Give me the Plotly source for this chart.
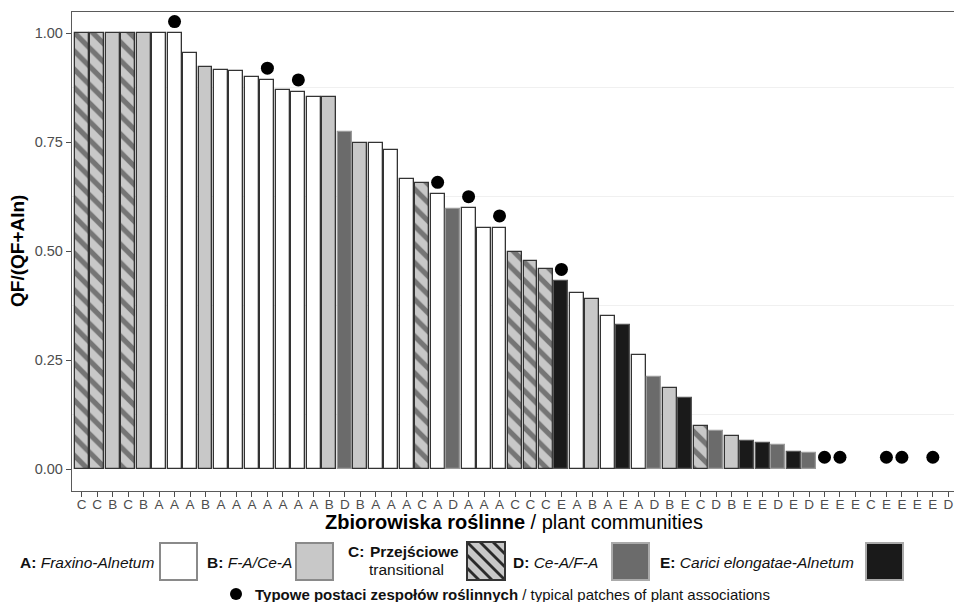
import plotly.graph_objects as go

# ---------------- data ----------------
communities = ["C", "C", "B", "C", "B", "A", "A", "A", "B", "A",
               "A", "A", "A", "A", "A", "A", "B", "D", "B", "A",
               "A", "A", "C", "A", "D", "A", "A", "A", "C", "C",
               "C", "E", "A", "B", "A", "E", "A", "D", "B", "E",
               "C", "D", "B", "E", "E", "D", "E", "D", "E", "E",
               "E", "C", "E", "E", "E", "E", "D"]

qf_ratio = [1.000, 1.000, 1.000, 1.000, 1.000, 1.000, 1.000, 0.956, 0.922, 0.916,
            0.914, 0.899, 0.893, 0.869, 0.866, 0.855, 0.855, 0.774, 0.749, 0.749,
            0.733, 0.665, 0.656, 0.631, 0.597, 0.598, 0.554, 0.554, 0.498, 0.477,
            0.458, 0.431, 0.403, 0.391, 0.351, 0.331, 0.262, 0.212, 0.185, 0.164,
            0.098, 0.088, 0.076, 0.065, 0.059, 0.055, 0.038, 0.036, 0.000, 0.000,
            0.000, 0.000, 0.000, 0.000, 0.000, 0.000, 0.000]

typical = [0, 0, 0, 0, 0, 0, 1, 0, 0, 0,
           0, 0, 1, 0, 1, 0, 0, 0, 0, 0,
           0, 0, 0, 1, 0, 1, 0, 1, 0, 0,
           0, 1, 0, 0, 0, 0, 0, 0, 0, 0,
           0, 0, 0, 0, 0, 0, 0, 0, 1, 1,
           0, 0, 1, 1, 0, 1, 0]

y_ticks = [0.0, 0.25, 0.5, 0.75, 1.0]
y_tick_labels = ["0.00", "0.25", "0.50", "0.75", "1.00"]
minor_grid = [0.125, 0.375, 0.625, 0.875]

# ---------------- styles ----------------
FONT = "Liberation Sans, Arial, Helvetica, sans-serif"
styles = {
    "A": dict(fill="#ffffff", line="#333333", pattern=None),
    "B": dict(fill="#c8c8c8", line="#333333", pattern=None),
    "C": dict(fill="#c8c8c8", line="#333333", pattern="\\"),
    "D": dict(fill="#6b6b6b", line="#9a9a9a", pattern=None),
    "E": dict(fill="#1a1a1a", line="#555555", pattern=None),
}

W, H = 954, 602
ML, MR, MT, MB = 72, 0, 12, 111
PW = W - ML - MR
PH = H - MT - MB
STEP = 15.475          # pixels per category
X0 = 1 - (81.7 - ML) / STEP


def px(x):
    return (x - ML) / PW


def py(y):
    return (H - MB - y) / PH


positions = list(range(1, len(communities) + 1))

fig = go.Figure()

for cat in ["A", "B", "C", "D", "E"]:
    st = styles[cat]
    xs = [p for p, c in zip(positions, communities) if c == cat]
    ys = [v for v, c in zip(qf_ratio, communities) if c == cat]
    lw = [1.3 if v > 0 else 0 for v in ys]
    marker = dict(color=st["fill"], line=dict(color=st["line"], width=lw))
    if st["pattern"]:
        marker["pattern"] = dict(shape=st["pattern"], fgcolor="#222222",
                                 bgcolor=st["fill"], size=13, solidity=0.4)
    fig.add_trace(go.Bar(x=xs, y=ys, marker=marker, width=0.9,
                         showlegend=False, hoverinfo="x+y"))

dot_offset = 0.027
dot_x = [p for p, t in zip(positions, typical) if t]
dot_y = [v + dot_offset for v, t in zip(qf_ratio, typical) if t]
fig.add_trace(go.Scatter(x=dot_x, y=dot_y, mode="markers",
                         marker=dict(color="#000000", size=13),
                         showlegend=False))

# ---------------- layout ----------------
fig.update_layout(
    width=W, height=H,
    margin=dict(l=ML, r=MR, t=MT, b=MB),
    paper_bgcolor="white", plot_bgcolor="white",
    font=dict(family=FONT, color="#000000"),
    barmode="overlay",
    bargap=0,
)

fig.update_xaxes(
    range=[X0, X0 + PW / STEP],
    tickmode="array", tickvals=positions, ticktext=communities,
    tickfont=dict(size=13.5, color="#4d4d4d", family=FONT),
    ticks="outside", ticklen=5, tickwidth=1, tickcolor="#4d4d4d",
    ticklabelstandoff=-4, ticklabeloverflow="allow",
    showline=True, linecolor="#5a5a5a", linewidth=1.3, mirror=True,
    showgrid=False, zeroline=False,
)

fig.update_yaxes(
    range=[-0.0505, 1.049],
    tickmode="array", tickvals=y_ticks, ticktext=y_tick_labels,
    tickfont=dict(size=14.5, color="#4d4d4d", family=FONT),
    ticks="outside", ticklen=5, tickwidth=1, tickcolor="#4d4d4d",
    showline=True, linecolor="#5a5a5a", linewidth=1.3, mirror=False,
    showgrid=False, zeroline=False,
    minor=dict(tickvals=minor_grid, showgrid=True, gridcolor="#f0f0f0",
               gridwidth=1, ticklen=0),
)

annotations = []
shapes = []

# axis titles
annotations.append(dict(
    x=px(17), y=py(251), xref="paper", yref="paper", textangle=-90,
    text="<b>QF/(QF+Aln)</b>", showarrow=False,
    font=dict(size=19, family=FONT, color="#000000"),
    xanchor="center", yanchor="middle"))
annotations.append(dict(
    x=px(514), y=py(522), xref="paper", yref="paper",
    text="<b>Zbiorowiska roślinne</b> / plant communities", showarrow=False,
    font=dict(size=20, family=FONT, color="#000000"),
    xanchor="center", yanchor="middle"))

# legend texts
legend_texts = [
    (18, 562, "<b>A:</b> <i>Fraxino-Alnetum</i>", 15.5),
    (205, 562, "<b>B:</b> <i>F-A/Ce-A</i>", 15.5),
    (346, 551, "<b>C:</b>", 15.5),
    (368, 551, "<b>Przejściowe</b>", 15.5),
    (367, 569, "transitional", 15.5),
    (511, 562, "<b>D:</b> <i>Ce-A/F-A</i>", 15.5),
    (658, 562, "<b>E:</b> <i>Carici elongatae-Alnetum</i>", 15.5),
    (253, 594, "<b>Typowe postaci zespołów roślinnych</b> / typical patches of plant associations", 15),
]
for x, y, t, fs in legend_texts:
    annotations.append(dict(x=px(x), y=py(y), xref="paper", yref="paper",
                            text=t, showarrow=False,
                            font=dict(size=fs, family=FONT, color="#111111"),
                            xanchor="left", yanchor="middle"))

# legend keys
keys = [
    (160, 543, 37, "#ffffff", "#8a8a8a"),
    (296, 543, 37, "#c8c8c8", "#8a8a8a"),
    (467, 542, 38, "#c8c8c8", "#333333"),
    (612, 543, 37, "#6b6b6b", "#aaaaaa"),
    (866, 543, 37, "#1a1a1a", "#aaaaaa"),
]
for x0, y0, s, fill, line in keys:
    shapes.append(dict(type="rect", xref="paper", yref="paper",
                       x0=px(x0), x1=px(x0 + s), y0=py(y0 + s), y1=py(y0),
                       fillcolor=fill, line=dict(color=line, width=2), layer="above"))

# hatch lines in C key
hx0, hy0, hs = 467, 542, 38
for c in [-26, -13, 0, 13, 26]:
    u0 = max(0, c)
    u1 = min(hs, hs + c)
    if u1 - u0 < 2:
        continue
    shapes.append(dict(type="line", xref="paper", yref="paper",
                       x0=px(hx0 + u0), y0=py(hy0 + u0 - c),
                       x1=px(hx0 + u1), y1=py(hy0 + u1 - c),
                       line=dict(color="#2b2b2b", width=2.8), layer="above"))
shapes.append(dict(type="rect", xref="paper", yref="paper",
                   x0=px(hx0), x1=px(hx0 + hs), y0=py(hy0 + hs), y1=py(hy0),
                   fillcolor="rgba(0,0,0,0)", line=dict(color="#333333", width=2),
                   layer="above"))

# dot symbol in bottom legend line
shapes.append(dict(type="circle", xref="paper", yref="paper",
                   x0=px(230), x1=px(242), y0=py(600), y1=py(588),
                   fillcolor="#000000", line=dict(width=0), layer="above"))

fig.update_layout(annotations=annotations, shapes=shapes)

# remove the default page margin so the 954x602 figure fills the window exactly
fig.write_html(
    "out.html",
    config={"displayModeBar": False},
    post_script="document.body.style.margin='0';document.body.style.overflow='hidden';",
)
